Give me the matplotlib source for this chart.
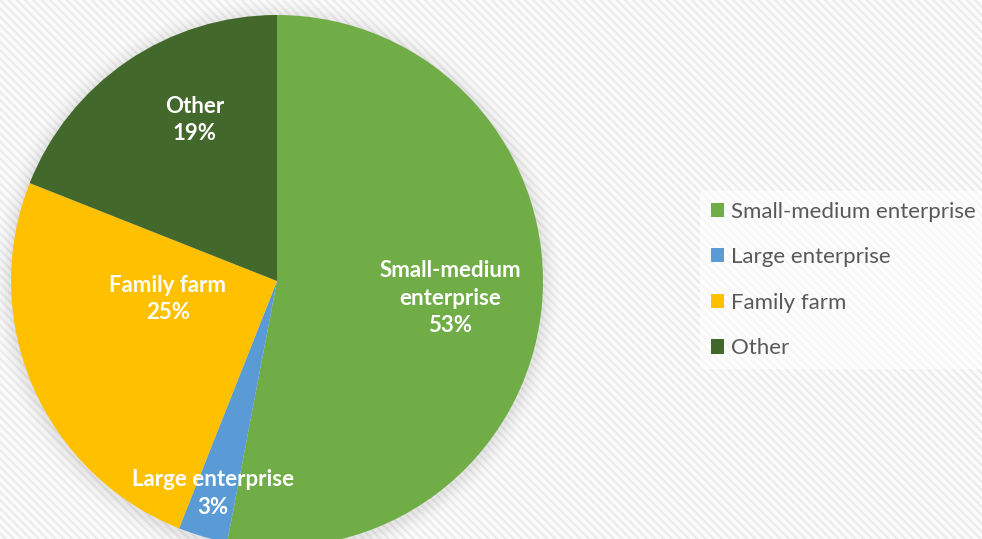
import matplotlib
matplotlib.use("Agg")
import matplotlib.pyplot as plt
from matplotlib.patches import Rectangle, Circle

categories = ["Small-medium enterprise", "Large enterprise", "Family farm", "Other"]
values = [53, 3, 25, 19]
colors = ["#70ad47", "#5b9bd5", "#ffc000", "#43682b"]
pie_labels = ["Small-medium\nenterprise\n53%", "Large enterprise\n3%", "Family farm\n25%", "Other\n19%"]
label_pos = [(0.65, -0.064), (-0.24, -0.80), (-0.41, -0.068), (-0.31, 0.605)]

W, H = 982, 539
plt.rcParams['font.family'] = ['Lato', 'DejaVu Sans']
plt.rcParams['hatch.linewidth'] = 1.6
plt.rcParams['hatch.color'] = '#ececec'

fig = plt.figure(figsize=(W / 100, H / 100), dpi=100)
fig.patch.set_facecolor('white')
bg = Rectangle((0, 0), 1, 1, transform=fig.transFigure, facecolor='#fbfbfb',
               edgecolor='#ebebeb', hatch='\\\\\\\\', lw=0, zorder=-10)
fig.patches.append(bg)

cx, cy, r = 277, H - 281, 266
ax = fig.add_axes([(cx - r) / W, (cy - r) / H, 2 * r / W, 2 * r / H])

# soft shadow
for i, a in enumerate([0.05, 0.04, 0.03, 0.02, 0.015]):
    ax.add_patch(Circle((0.0, -0.01), 1.0 + 0.012 * (i + 1), facecolor='#777777',
                        alpha=a, edgecolor='none', zorder=0, clip_on=False))

wedges, _ = ax.pie(values, colors=colors, startangle=90, counterclock=False,
                   radius=1.0, wedgeprops=dict(linewidth=0), normalize=True)
for w in wedges:
    w.set_clip_on(False)
    w.set_zorder(2)

ax.set_xlim(-1, 1)
ax.set_ylim(-1, 1)
ax.set_aspect('equal')
ax.axis('off')

for lab, (x, y) in zip(pie_labels, label_pos):
    ax.text(x, y, lab, ha='center', va='center', color='white', fontsize=16,
            fontweight='bold', linespacing=1.4, zorder=5, clip_on=False)

handles = [Rectangle((0, 0), 1, 1, facecolor=c, edgecolor='none') for c in colors]
leg = fig.legend(handles, categories, loc='center left',
                 bbox_to_anchor=(700 / W, 1 - 280 / H), frameon=True,
                 fontsize=16, labelcolor='#595959', handlelength=0.6,
                 handleheight=0.6, handletextpad=0.3, labelspacing=1.15,
                 borderpad=0.5, borderaxespad=0)
leg.get_frame().set_facecolor('white')
leg.get_frame().set_alpha(0.6)
leg.get_frame().set_edgecolor('none')

fig.savefig('out.png', dpi=100, facecolor=fig.get_facecolor())
